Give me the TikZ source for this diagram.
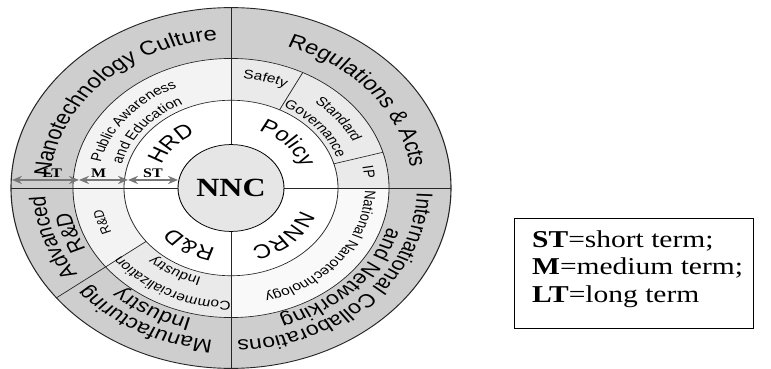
\documentclass[tikz,border=0pt]{standalone}
\usepackage{fontspec}
\setmainfont{Liberation Serif}
\setsansfont{Liberation Sans}
\usepackage{tikz}
\usetikzlibrary{decorations.text,arrows.meta}

\definecolor{ringgray}{RGB}{206,206,206}
\definecolor{midgray}{RGB}{234,234,234}
\definecolor{palegray}{RGB}{243,243,243}
\definecolor{whitegray}{RGB}{249,249,249}
\definecolor{hubgray}{RGB}{230,230,230}
\definecolor{arrowgray}{RGB}{120,120,120}

\newcommand{\outerfont}{\sffamily\fontsize{24}{24}\selectfont}
\newcommand{\outertwofont}{\sffamily\fontsize{23}{23}\selectfont}
\newcommand{\midfont}{\sffamily\fontsize{15.5}{15.5}\selectfont}
\newcommand{\smallmidfont}{\sffamily\fontsize{14}{14}\selectfont}
\newcommand{\innerfont}{\sffamily\fontsize{24}{24}\selectfont}
\newcommand{\legendfont}{\rmfamily\fontsize{29.5}{34}\selectfont}

% text along a clockwise arc: font, text, radius, from angle, to angle
\newcommand{\arclabel}[5]{%
  \path[decorate,decoration={text along path,text align=center,text={|#1|#2}}]
    (#4:#3) arc[start angle=#4,end angle=#5,radius=#3];}

\tikzset{
  ringline/.style={draw=black!85,line width=0.8pt},
  spanarrow/.style={draw=arrowgray,line width=1.8pt,
    {Stealth[length=10pt,width=10pt]}-{Stealth[length=10pt,width=10pt]}},
  spanlabel/.style={above,inner sep=1.5pt,font=\rmfamily\bfseries\fontsize{16}{16}\selectfont},
  legendbox/.style={draw,line width=1.2pt,inner sep=0pt}
}

\begin{document}
\begin{tikzpicture}[x=1pt,y=1pt]
  \useasboundingbox (-231,-181) rectangle (540,188);
  \begin{scope}[transform canvas={yscale=0.82}]

    % rings
    \fill[ringgray] (0,0) circle[radius=220pt];
    \fill[palegray] (0,0) -- (90:158pt) arc[start angle=90,end angle=180,radius=158pt] -- cycle;
    \fill[midgray] (0,0) -- (0:158pt) arc[start angle=0,end angle=90,radius=158pt] -- cycle;
    \fill[whitegray] (0,0) -- (-90:158pt) arc[start angle=-90,end angle=0,radius=158pt] -- cycle;
    \fill[palegray] (0,0) -- (180:158pt) arc[start angle=180,end angle=217.5,radius=158pt] -- cycle;
    \fill[midgray] (0,0) -- (217.5:158pt) arc[start angle=217.5,end angle=270,radius=158pt] -- cycle;
    \fill[white] (0,0) circle[radius=107pt];

    \draw[ringline,line width=1.1pt] (0,0) circle[radius=220pt];
    \draw[ringline] (0,0) circle[radius=158pt];
    \draw[ringline] (0,0) circle[radius=107pt];
    \draw[ringline] (-220,0) -- (220,0);
    \draw[ringline] (0,-220) -- (0,220);
    \draw[ringline] (63:107pt) -- (63:158pt);
    \draw[ringline] (16:107pt) -- (16:158pt);
    \draw[ringline] (217.5:107pt) -- (217.5:220pt);

    \node[circle,draw,line width=0.9pt,fill=hubgray,minimum size=106pt,inner sep=0pt,
      font=\rmfamily\bfseries\fontsize{32}{32}\selectfont] (nnc) at (0,0) {NNC};

    % outer ring
    \arclabel{\outerfont}{Nanotechnology Culture}{181pt}{178}{92}
    \arclabel{\outerfont}{Regulations {\&} Acts}{181pt}{85}{-5}
    \arclabel{\outertwofont}{International Collaborations}{186pt}{5}{-95}
    \arclabel{\outertwofont}{and Networking}{164pt}{0}{-90}
    \arclabel{\outertwofont}{Advanced}{186pt}{217.5}{180}
    \arclabel{\outertwofont}{R{\&}D}{163pt}{217.5}{180}
    \arclabel{\outertwofont}{Manufacturing}{186pt}{268}{216}
    \arclabel{\outertwofont}{Industry}{164pt}{268}{216}

    % middle ring
    \arclabel{\midfont}{Public Awareness}{134pt}{170}{110}
    \arclabel{\midfont}{and Education}{113pt}{170}{110}
    \arclabel{\midfont}{Safety}{134pt}{89}{62}
    \arclabel{\midfont}{Standard}{134pt}{62}{14}
    \arclabel{\midfont}{Governance}{112pt}{64}{17}
    \arclabel{\midfont}{IP}{134pt}{16}{0}
    \arclabel{\midfont}{National Nanotechnology}{134pt}{2}{-79}
    \arclabel{\smallmidfont}{R{\&}D}{131pt}{215}{181}
    \arclabel{\midfont}{Commercialization}{138pt}{271}{216}
    \arclabel{\midfont}{Industry}{113pt}{270}{212}

    % inner ring
    \arclabel{\innerfont}{HRD}{75pt}{168}{108}
    \arclabel{\innerfont}{Policy}{75pt}{74}{14}
    \arclabel{\innerfont}{NNRC}{75pt}{-18}{-78}
    \arclabel{\innerfont}{R{\&}D}{75pt}{269}{209}

    % term spans
    \coordinate (lt-a) at (-219,9.8);
    \coordinate (lt-b) at (-152,9.8);
    \coordinate (m-b) at (-103,9.8);
    \coordinate (st-b) at (-53,9.8);
    \draw[spanarrow] (lt-a) -- node[spanlabel,pos=0.6] {LT} (lt-b);
    \draw[spanarrow] (lt-b) -- node[spanlabel,pos=0.4] {M} (m-b);
    \draw[spanarrow] (m-b) -- node[spanlabel] {ST} (st-b);

    % legend
    \node[legendbox,anchor=north west,minimum width=239pt,minimum height=134pt] (legend) at (283,-37) {};
    \node[anchor=base west,inner sep=0pt,font=\legendfont] (stnote) at (301,-72) {\textbf{ST}=short term;};
    \node[anchor=base west,inner sep=0pt,font=\legendfont] (mnote) at (301,-106) {\textbf{M}=medium term;};
    \node[anchor=base west,inner sep=0pt,font=\legendfont] (ltnote) at (301,-140) {\textbf{LT}=long term};
  \end{scope}
\end{tikzpicture}
\end{document}
